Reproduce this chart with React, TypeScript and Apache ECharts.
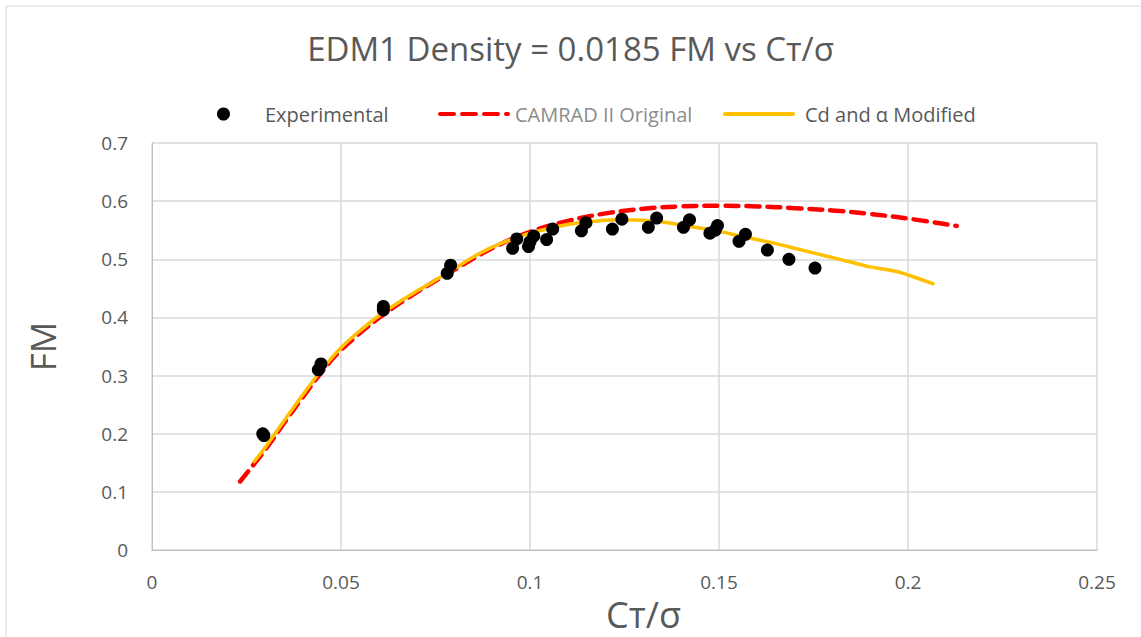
import React, { useEffect, useRef } from "react";
import * as echarts from "echarts";

const titleText = "EDM1 Density = 0.0185 FM vs Cт/σ";
const xName = "Cт/σ";
const yName = "FM";
const seriesNames = ["Experimental", "CAMRAD II Original", "Cd and α Modified"];

const expX = [0.0293, 0.0296, 0.044, 0.0447, 0.0612, 0.0612, 0.0781, 0.079, 0.0954, 0.0965, 0.0996, 0.1, 0.101, 0.1044, 0.106, 0.1136, 0.1148, 0.1218, 0.1243, 0.1313, 0.1335, 0.1406, 0.1422, 0.1476, 0.149, 0.1496, 0.1553, 0.157, 0.1628, 0.1685, 0.1754];
const expY = [0.2, 0.197, 0.31, 0.32, 0.413, 0.419, 0.476, 0.49, 0.519, 0.535, 0.522, 0.53, 0.54, 0.534, 0.552, 0.549, 0.563, 0.552, 0.569, 0.555, 0.571, 0.555, 0.568, 0.545, 0.55, 0.558, 0.531, 0.543, 0.516, 0.5, 0.485];

const camX = [0.0233, 0.03, 0.035, 0.04, 0.045, 0.05, 0.06, 0.07, 0.08, 0.09, 0.1, 0.11, 0.12, 0.13, 0.14, 0.15, 0.16, 0.17, 0.18, 0.19, 0.2, 0.2129];
const camY = [0.118, 0.173, 0.219, 0.264, 0.307, 0.344, 0.399, 0.443, 0.482, 0.519, 0.547, 0.566, 0.579, 0.587, 0.591, 0.592, 0.591, 0.588, 0.584, 0.578, 0.57, 0.5575];

const modX = [0.027, 0.03, 0.035, 0.04, 0.045, 0.05, 0.055, 0.06, 0.065, 0.07, 0.075, 0.08, 0.085, 0.09, 0.095, 0.1, 0.105, 0.11, 0.115, 0.12, 0.125, 0.13, 0.135, 0.14, 0.145, 0.15, 0.155, 0.16, 0.165, 0.17, 0.175, 0.18, 0.185, 0.19, 0.197, 0.2066];
const modY = [0.152, 0.177, 0.223, 0.268, 0.311, 0.348, 0.377, 0.403, 0.425, 0.445, 0.464, 0.484, 0.504, 0.521, 0.534, 0.545, 0.553, 0.56, 0.564, 0.567, 0.568, 0.567, 0.564, 0.559, 0.554, 0.548, 0.541, 0.534, 0.527, 0.519, 0.511, 0.503, 0.495, 0.487, 0.479, 0.458];

const FONT = "Open Sans";

const redDashIcon =
  "path://M2,0 H16 A2,2 0 0 1 16,4 H2 A2,2 0 0 1 2,0 Z M24,0 H38 A2,2 0 0 1 38,4 H24 A2,2 0 0 1 24,0 Z M46,0 H60 A2,2 0 0 1 60,4 H46 A2,2 0 0 1 46,0 Z M68,0 H70 A2,2 0 0 1 70,4 H68 A2,2 0 0 1 68,0 Z";
const yellowIcon = "path://M2,0 H70 A2,2 0 0 1 70,4 H2 A2,2 0 0 1 2,0 Z";

export default function App() {
  const ref = useRef<HTMLDivElement>(null);
  useEffect(() => {
    if (!ref.current) return;
    const chart = echarts.init(ref.current, null, { renderer: "svg" });
    const zip = (xs: number[], ys: number[]) => xs.map((x, i) => [x, ys[i]]);
    const legendBase = {
      top: 99,
      orient: "horizontal" as const,
      textStyle: { color: "#595959", fontSize: 20, fontFamily: FONT },
      selectedMode: false,
    };
    chart.setOption({
      animation: false,
      backgroundColor: "#ffffff",
      title: {
        text: titleText,
        left: "center",
        top: 27,
        textStyle: { color: "#595959", fontSize: 33, fontWeight: "normal", fontFamily: FONT },
      },
      legend: [
        {
          ...legendBase,
          left: 212,
          data: [{ name: seriesNames[0], icon: "circle", itemStyle: { color: "#000", opacity: 1 } }],
          itemWidth: 13,
          itemHeight: 13,
          textStyle: { ...legendBase.textStyle, padding: [0, 0, 0, 30] },
        },
        {
          ...legendBase,
          left: 433,
          data: [{ name: seriesNames[1], icon: redDashIcon, itemStyle: { color: "#ff0000" } }],
          itemWidth: 72,
          itemHeight: 5,
          textStyle: { ...legendBase.textStyle, color: "#8c8c8c" },
        },
        {
          ...legendBase,
          left: 718,
          data: [{ name: seriesNames[2], icon: yellowIcon, itemStyle: { color: "#ffc000" } }],
          itemWidth: 72,
          itemHeight: 4,
          textStyle: { ...legendBase.textStyle, padding: [0, 0, 0, 5] },
        },
      ],
      grid: { left: 152, right: 44, top: 143, bottom: 80 },
      xAxis: {
        type: "value",
        min: 0,
        max: 0.25,
        interval: 0.05,
        name: xName,
        nameLocation: "middle",
        nameGap: 33,
        nameTextStyle: { color: "#595959", fontSize: 36, fontFamily: FONT, padding: [0, 0, 0, 38] },
        axisLine: { show: true, lineStyle: { color: "#bfbfbf", width: 1 } },
        axisTick: { show: false },
        axisLabel: { color: "#595959", fontSize: 19, fontFamily: FONT, margin: 22 },
        splitLine: { show: true, lineStyle: { color: "#d9d9d9", width: 1.5 } },
      },
      yAxis: {
        type: "value",
        min: 0,
        max: 0.7,
        interval: 0.1,
        name: yName,
        nameLocation: "middle",
        nameGap: 92,
        nameTextStyle: { color: "#595959", fontSize: 35, fontFamily: FONT },
        axisLine: { show: true, lineStyle: { color: "#bfbfbf", width: 1 } },
        axisTick: { show: false },
        axisLabel: { color: "#595959", fontSize: 19, fontFamily: FONT, margin: 24 },
        splitLine: { show: true, lineStyle: { color: "#d9d9d9", width: 1.5 } },
      },
      graphic: [
        {
          type: "rect",
          shape: { x: 6, y: 6, width: 1200, height: 700 },
          style: { fill: "none", stroke: "#d9d9d9", lineWidth: 1 },
          silent: true,
          z: -1,
        },
      ],
      series: [
        {
          name: seriesNames[1],
          type: "line",
          data: zip(camX, camY),
          showSymbol: false,
          symbol: "none",
          smooth: 0.4,
          lineStyle: { color: "#ff0000", width: 4.5, type: [13, 8], cap: "round" },
          itemStyle: { color: "#ff0000" },
          z: 2,
        },
        {
          name: seriesNames[2],
          type: "line",
          data: zip(modX, modY),
          showSymbol: false,
          symbol: "none",
          smooth: 0.3,
          lineStyle: { color: "#ffc000", width: 3.5, cap: "round", join: "round" },
          itemStyle: { color: "#ffc000" },
          z: 3,
        },
        {
          name: seriesNames[0],
          type: "scatter",
          data: zip(expX, expY),
          symbol: "circle",
          symbolSize: 13,
          itemStyle: { color: "#000000", opacity: 1 },
          z: 4,
        },
      ],
    });
    return () => chart.dispose();
  }, []);
  return (
    <div
      ref={ref}
      style={{ position: "fixed", left: 0, top: 0, width: 1141, height: 637, background: "#fff" }}
    />
  );
}
